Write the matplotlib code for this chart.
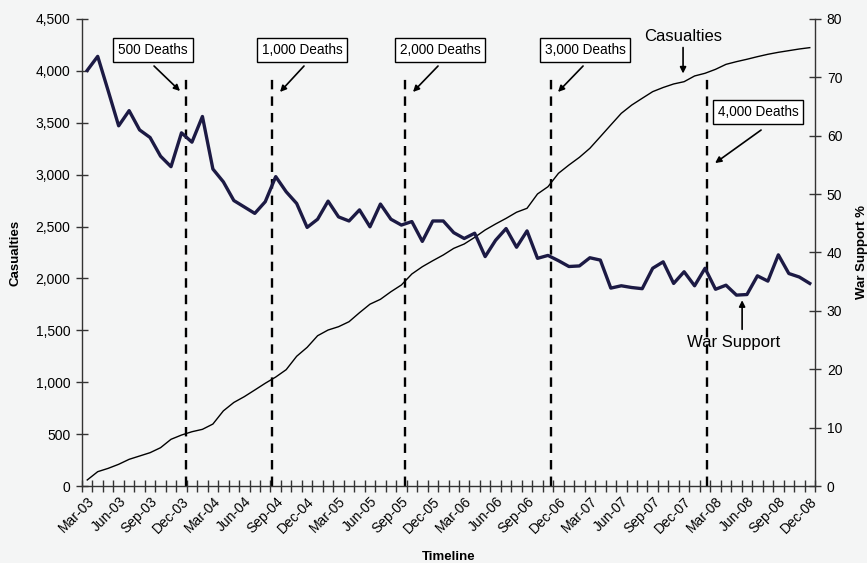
import numpy as np
import pandas as pd
import matplotlib
matplotlib.use('Agg')
import matplotlib.pyplot as plt
from matplotlib.transforms import ScaledTranslation

plt.rcParams['font.family'] = ['Liberation Sans', 'DejaVu Sans']

# monthly data, Mar-03 .. Dec-08
months = pd.date_range('2003-03-01', periods=70, freq='MS').strftime('%b-%y').tolist()

casualties = [58, 138, 170, 209, 257, 289, 321, 369, 450, 491,
              523, 546, 597, 724, 805, 861, 925, 990, 1050, 1121,
              1250, 1336, 1448, 1503, 1535, 1583, 1670, 1752, 1799, 1872,
              1937, 2043, 2113, 2171, 2226, 2290, 2332, 2396, 2467, 2525,
              2579, 2638, 2676, 2814, 2884, 3013, 3093, 3167, 3254, 3366,
              3479, 3591, 3671, 3736, 3800, 3840, 3874, 3896, 3951, 3977,
              4015, 4063, 4089, 4112, 4137, 4160, 4179, 4195, 4211, 4224]

war_support = [71.2, 73.6, 67.7, 61.7, 64.3, 61.0, 59.7, 56.5, 54.7, 60.5,
               58.9, 63.3, 54.3, 52.1, 48.9, 47.8, 46.7, 48.7, 53.0, 50.4,
               48.4, 44.3, 45.7, 48.8, 46.1, 45.4, 47.3, 44.4, 48.3, 45.7,
               44.7, 45.3, 41.9, 45.4, 45.4, 43.4, 42.4, 43.3, 39.3, 42.1,
               44.1, 40.9, 43.7, 39.0, 39.5, 38.6, 37.6, 37.7, 39.1, 38.7,
               33.9, 34.3, 34.0, 33.8, 37.3, 38.4, 34.7, 36.7, 34.3, 37.3,
               33.7, 34.4, 32.7, 32.8, 36.0, 35.1, 39.6, 36.4, 35.8, 34.7]

# death milestones (position on the month axis)
milestone_labels = ['500 Deaths', '1,000 Deaths', '2,000 Deaths', '3,000 Deaths', '4,000 Deaths']
milestone_pos = [9.43, 17.6, 30.3, 44.27, 59.17]

bg = '#f4f5f5'
fig = plt.figure(figsize=(8.67, 5.63), dpi=100, facecolor=bg)
ax = fig.add_axes([82/867, 1 - 486/563, (815-82)/867, (486-19)/563])
ax.set_facecolor(bg)
ax2 = ax.twinx()

x = np.arange(len(months))
ax.plot(x, casualties, color='black', lw=1.0, zorder=3)
ax2.plot(x, war_support, color='#1c1a44', lw=2.4, zorder=3)

ax.vlines(milestone_pos, 0, 3960, colors='black', linestyles=(0, (4, 3)), lw=1.7, zorder=2)

ax.set_xlim(-0.5, len(months) - 0.5)
ax.set_ylim(0, 4500)
ax2.set_ylim(0, 80)
ax.set_yticks(np.arange(0, 4501, 500))
ax.set_yticklabels([f'{v:,}' for v in range(0, 4501, 500)])
ax2.set_yticks(np.arange(0, 81, 10))

ax.set_xticks(x[::3])
ax.set_xticklabels(months[::3], rotation=45, ha='right', rotation_mode='anchor')
shift = ScaledTranslation(-6/72, 0, fig.dpi_scale_trans)
for lbl in ax.get_xticklabels():
    lbl.set_transform(lbl.get_transform() + shift)
ax.set_xticks(np.arange(-0.5, len(months), 1), minor=True)
ax.tick_params(axis='x', which='major', length=0, pad=6, labelsize=10)
ax.tick_params(axis='x', which='minor', direction='inout', length=9, width=1, color='#333333')
ax.tick_params(axis='y', direction='inout', length=9, width=1, color='#333333', labelsize=10, pad=4)
ax2.tick_params(axis='y', direction='inout', length=9, width=1, color='#333333', labelsize=10, pad=4)

for a in (ax, ax2):
    a.spines['top'].set_visible(False)
    for s in ['left', 'right', 'bottom']:
        a.spines[s].set_color('#333333')
        a.spines[s].set_linewidth(1.0)
ax.spines['right'].set_visible(False)
ax2.spines['left'].set_visible(False)
ax2.spines['bottom'].set_visible(False)

ax.set_ylabel('Casualties', fontsize=9.5, fontweight='bold', labelpad=10)
ax2.set_ylabel('War Support %', fontsize=9.5, fontweight='bold', rotation=90, labelpad=10)
ax.set_xlabel('Timeline', fontsize=9.5, fontweight='bold', labelpad=11)

box = dict(boxstyle='square,pad=0.35', fc='white', ec='black', lw=1.0)
arrow = dict(arrowstyle='-|>', color='black', lw=1.2, mutation_scale=9, shrinkA=0, shrinkB=0)

# text centres and arrow (tail, head) in data coords of the left axis
box_xy = [(6.28, 4201), (20.51, 4201), (33.69, 4201), (47.54, 4201), (64.07, 3604)]
arrow_xy = [((6.38, 4047), (8.86, 3806)),
            ((20.70, 4047), (18.41, 3797)),
            ((33.50, 4047), (31.11, 3797)),
            ((47.35, 4047), (44.96, 3797)),
            ((64.35, 3430), (59.96, 3112))]
for lab, (tx, ty), (tail, head) in zip(milestone_labels, box_xy, arrow_xy):
    ax.text(tx, ty, lab, fontsize=9.8, ha='center', va='center', bbox=box, zorder=5)
    ax.annotate('', xy=head, xytext=tail, arrowprops=arrow, zorder=5)

ax.text(56.9, 4327, 'Casualties', fontsize=12, ha='center', va='center')
ax.annotate('', xy=(56.9, 3975), xytext=(56.9, 4225), arrowprops=arrow)
ax.text(61.77, 1378, 'War Support', fontsize=12, ha='center', va='center')
ax.annotate('', xy=(62.54, 1790), xytext=(62.54, 1510), arrowprops=arrow)

fig.savefig('out.png', dpi=100, facecolor=bg)
